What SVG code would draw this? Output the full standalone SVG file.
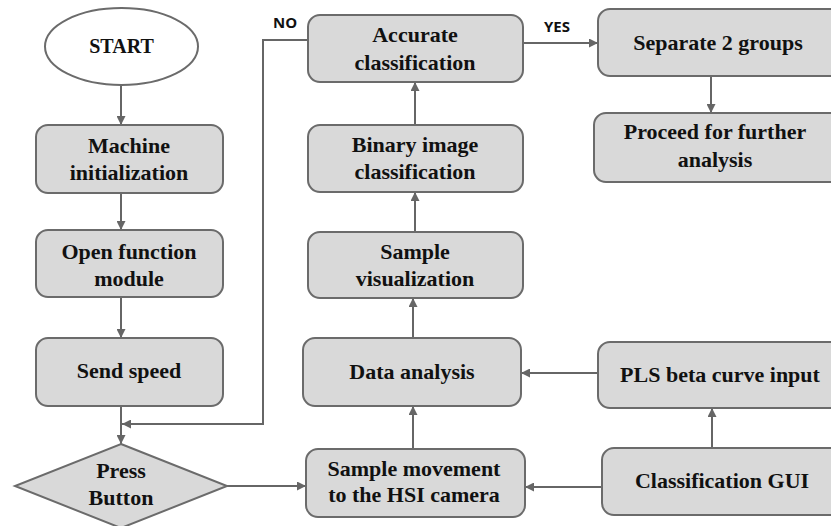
<svg xmlns="http://www.w3.org/2000/svg" width="831" height="526" viewBox="0 0 831 526">
<defs>
<marker id="ah" viewBox="0 0 10 10" refX="10" refY="5" markerWidth="9" markerHeight="9" markerUnits="userSpaceOnUse" orient="auto">
<path d="M0,0 L10,5 L0,10 z" fill="#666"/>
</marker>
<style>
.box{fill:#d9d9d9;stroke:#6b6b6b;stroke-width:2}
.t{font-family:"Liberation Serif","Times New Roman",serif;font-weight:bold;font-size:22px;fill:#111;text-anchor:middle}
.lbl{font-family:"Open Sans","DejaVu Sans",sans-serif;font-weight:bold;font-size:15px;fill:#111}
.c{fill:none;stroke:#666;stroke-width:2;marker-end:url(#ah)}
</style>
</defs>
<rect width="831" height="526" fill="#fff"/>

<g id="connectors">
<path class="c" d="M121,85 V125"/>
<path class="c" d="M121,193 V230"/>
<path class="c" d="M121,297 V338"/>
<path class="c" d="M121,406 V444"/>
<path class="c" d="M308,40 H263 V424 H122"/>
<path class="c" d="M222,486 H306"/>
<path class="c" d="M413,449 V406"/>
<path class="c" d="M413,338 V298"/>
<path class="c" d="M415,232 V192"/>
<path class="c" d="M415,125 V82"/>
<path class="c" d="M523,43 H598"/>
<path class="c" d="M711,76 V113"/>
<path class="c" d="M712,448 V408"/>
<path class="c" d="M598,373 H521"/>
<path class="c" d="M602,487 H525"/>
<text class="lbl" x="273" y="28">NO</text>
<text class="lbl" x="544" y="32">YES</text>
</g>

<g id="start">
<ellipse cx="121.5" cy="46.5" rx="76.5" ry="38.5" fill="#fff" stroke="#6b6b6b" stroke-width="2"/>
<text class="t" x="121.5" y="53" style="font-size:20px">START</text>
</g>
<g id="machine-init">
<rect class="box" x="36" y="125" width="187" height="68" rx="12"/>
<text class="t" x="129" y="153">Machine</text>
<text class="t" x="129" y="180">initialization</text>
</g>
<g id="open-function">
<rect class="box" x="36" y="230" width="187" height="67" rx="12"/>
<text class="t" x="129" y="259">Open function</text>
<text class="t" x="129" y="286">module</text>
</g>
<g id="send-speed">
<rect class="box" x="36" y="338" width="187" height="68" rx="12"/>
<text class="t" x="129" y="378">Send speed</text>
</g>
<g id="press-button">
<polygon class="box" points="121,444 227,486 121,528 15,486"/>
<text class="t" x="121" y="478">Press</text>
<text class="t" x="121" y="505">Button</text>
</g>
<g id="accurate">
<rect class="box" x="308" y="15" width="215" height="67" rx="12"/>
<text class="t" x="415" y="42">Accurate</text>
<text class="t" x="415" y="70">classification</text>
</g>
<g id="binary">
<rect class="box" x="308" y="125" width="215" height="67" rx="12"/>
<text class="t" x="415" y="152">Binary image</text>
<text class="t" x="415" y="179">classification</text>
</g>
<g id="visualization">
<rect class="box" x="308" y="232" width="215" height="66" rx="12"/>
<text class="t" x="415" y="259">Sample</text>
<text class="t" x="415" y="286">visualization</text>
</g>
<g id="data-analysis">
<rect class="box" x="303" y="338" width="218" height="68" rx="12"/>
<text class="t" x="412" y="379">Data analysis</text>
</g>
<g id="sample-movement">
<rect class="box" x="306" y="449" width="219" height="68" rx="12"/>
<text class="t" x="414" y="476">Sample movement</text>
<text class="t" x="414" y="502">to the HSI camera</text>
</g>
<g id="separate">
<rect class="box" x="598" y="9" width="245" height="67" rx="12"/>
<text class="t" x="718" y="50">Separate 2 groups</text>
</g>
<g id="proceed">
<rect class="box" x="594" y="113" width="249" height="69" rx="12"/>
<text class="t" x="715" y="139">Proceed for further</text>
<text class="t" x="715" y="167">analysis</text>
</g>
<g id="pls">
<rect class="box" x="598" y="342" width="245" height="66" rx="12"/>
<text class="t" x="720" y="382">PLS beta curve input</text>
</g>
<g id="gui">
<rect class="box" x="602" y="448" width="241" height="67" rx="12"/>
<text class="t" x="722" y="488">Classification GUI</text>
</g>
</svg>
